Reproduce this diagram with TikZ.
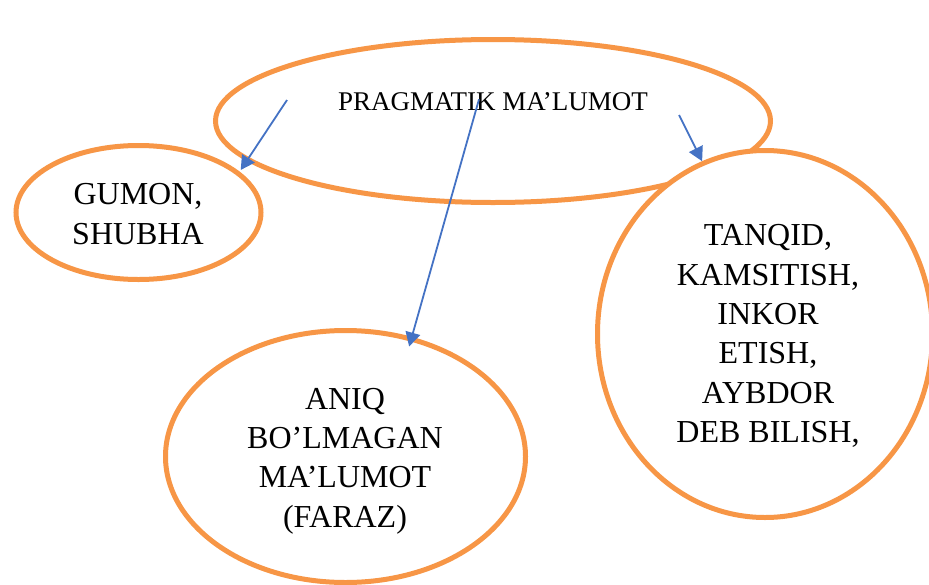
\documentclass[tikz,border=0pt]{standalone}
\usepackage{fontspec}
\setmainfont{Liberation Serif}
\usetikzlibrary{shapes.geometric,arrows.meta}
\definecolor{orng}{HTML}{F79646}
\definecolor{blu}{HTML}{4472C4}
\begin{document}
\begin{tikzpicture}[x=1pt,y=-1pt,
 oval/.style={ellipse,draw=orng,line width=5pt,fill=white,inner sep=0pt},
 bigtxt/.style={align=center,inner sep=0pt,font=\fontsize{32}{39.4}\selectfont},
 toptxt/.style={inner sep=0pt,font=\fontsize{27}{31}\selectfont},
 arr/.style={draw=blu,line width=1.8pt,-{Triangle[length=14pt,width=15pt]}}]
\useasboundingbox (0,0) rectangle (929,584);
\clip (0,0) rectangle (929,584);
\node[oval,minimum width=245pt,minimum height=134pt] (gumon) at (138.5,212.5) {};
\node[oval,minimum width=555pt,minimum height=163pt] (prag) at (493,121) {};
\node[oval,minimum width=360pt,minimum height=252pt] (aniq) at (345.5,456.5) {};
\node[oval,minimum width=335pt,minimum height=367pt] (tanqid) at (765,334) {};
\node[toptxt] (pragt) at (493,101.4) {PRAGMATIK MA’LUMOT};
\node[bigtxt] (gumont) at (138,214) {GUMON,\\SHUBHA};
\node[bigtxt] (aniqt) at (345,461) {ANIQ\\BO’LMAGAN\\MA’LUMOT\\(FARAZ)};
\node[bigtxt] (tanqidt) at (768,336) {TANQID,\\KAMSITISH,\\INKOR\\ETISH,\\AYBDOR\\DEB BILISH,};
\coordinate (s1) at (287,100);
\coordinate (s2) at (679,115);
\coordinate (s3) at (479,99.3);
\draw[arr,shorten >=2pt] (s1) -- (gumon.22);
\draw[arr] (s2) -- (tanqid.110);
\draw[arr,shorten >=-10pt] (s3) -- (aniq.61);
\end{tikzpicture}
\end{document}
